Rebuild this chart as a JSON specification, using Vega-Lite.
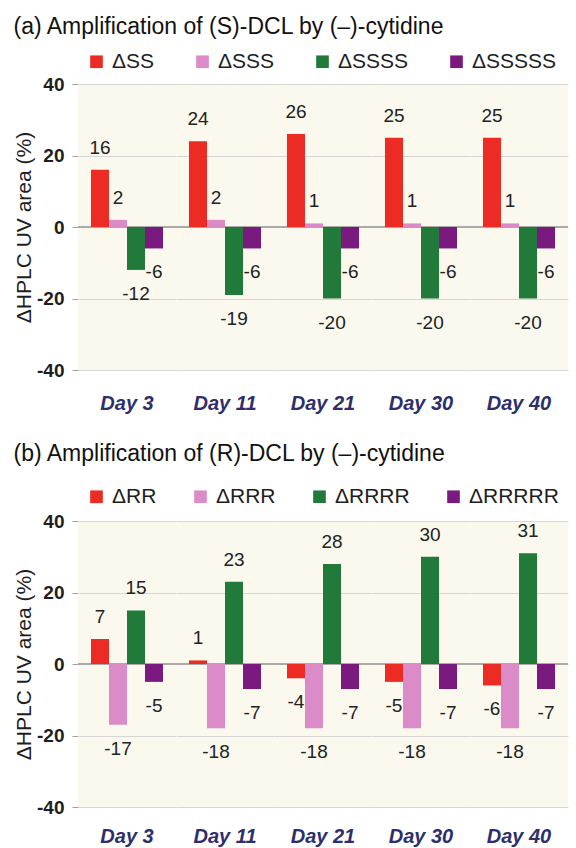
{
  "$schema": "https://vega.github.io/schema/vega-lite/v6.json",
  "background": "white",
  "padding": {"left": 13, "top": 16, "right": 4, "bottom": 0},
  "spacing": 29,
  "datasets": {
    "sdcl": [
      {"day": "Day 3", "series": "ΔSS", "value": 16},
      {"day": "Day 3", "series": "ΔSSS", "value": 2},
      {"day": "Day 3", "series": "ΔSSSS", "value": -12},
      {"day": "Day 3", "series": "ΔSSSSS", "value": -6},
      {"day": "Day 11", "series": "ΔSS", "value": 24},
      {"day": "Day 11", "series": "ΔSSS", "value": 2},
      {"day": "Day 11", "series": "ΔSSSS", "value": -19},
      {"day": "Day 11", "series": "ΔSSSSS", "value": -6},
      {"day": "Day 21", "series": "ΔSS", "value": 26},
      {"day": "Day 21", "series": "ΔSSS", "value": 1},
      {"day": "Day 21", "series": "ΔSSSS", "value": -20},
      {"day": "Day 21", "series": "ΔSSSSS", "value": -6},
      {"day": "Day 30", "series": "ΔSS", "value": 25},
      {"day": "Day 30", "series": "ΔSSS", "value": 1},
      {"day": "Day 30", "series": "ΔSSSS", "value": -20},
      {"day": "Day 30", "series": "ΔSSSSS", "value": -6},
      {"day": "Day 40", "series": "ΔSS", "value": 25},
      {"day": "Day 40", "series": "ΔSSS", "value": 1},
      {"day": "Day 40", "series": "ΔSSSS", "value": -20},
      {"day": "Day 40", "series": "ΔSSSSS", "value": -6}
    ],
    "rdcl": [
      {"day": "Day 3", "series": "ΔRR", "value": 7},
      {"day": "Day 3", "series": "ΔRRR", "value": -17},
      {"day": "Day 3", "series": "ΔRRRR", "value": 15},
      {"day": "Day 3", "series": "ΔRRRRR", "value": -5},
      {"day": "Day 11", "series": "ΔRR", "value": 1},
      {"day": "Day 11", "series": "ΔRRR", "value": -18},
      {"day": "Day 11", "series": "ΔRRRR", "value": 23},
      {"day": "Day 11", "series": "ΔRRRRR", "value": -7},
      {"day": "Day 21", "series": "ΔRR", "value": -4},
      {"day": "Day 21", "series": "ΔRRR", "value": -18},
      {"day": "Day 21", "series": "ΔRRRR", "value": 28},
      {"day": "Day 21", "series": "ΔRRRRR", "value": -7},
      {"day": "Day 30", "series": "ΔRR", "value": -5},
      {"day": "Day 30", "series": "ΔRRR", "value": -18},
      {"day": "Day 30", "series": "ΔRRRR", "value": 30},
      {"day": "Day 30", "series": "ΔRRRRR", "value": -7},
      {"day": "Day 40", "series": "ΔRR", "value": -6},
      {"day": "Day 40", "series": "ΔRRR", "value": -18},
      {"day": "Day 40", "series": "ΔRRRR", "value": 31},
      {"day": "Day 40", "series": "ΔRRRRR", "value": -7}
    ]
  },
  "vconcat": [
    {
      "title": {"text": "(a) Amplification of (S)-DCL by (–)-cytidine", "offset": 12},
      "data": {"name": "sdcl"},
      "facet": {
        "column": {"field": "day", "type": "nominal", "sort": ["Day 3", "Day 11", "Day 21", "Day 30", "Day 40"],
                   "title": null, "header": {"labelPadding": 24}}
      },
      "spacing": {"column": 0},
      "bounds": "flush",
      "spec": {
        "width": 98,
        "height": 286,
        "encoding": {
          "x": {"field": "series", "type": "nominal", "sort": ["ΔSS", "ΔSSS", "ΔSSSS", "ΔSSSSS"], "axis": null,
                "scale": {"paddingInner": 0, "paddingOuter": 0.72}},
          "y": {"field": "value", "type": "quantitative", "scale": {"domain": [-40, 40]},
                "title": "ΔHPLC UV area (%)", "axis": {"values": [-40, -20, 0, 20, 40]}}
        },
        "layer": [
          {
            "mark": {"type": "rule", "color": "#A6A6A6", "strokeWidth": 1.2},
            "encoding": {"x": null, "y": {"datum": 0, "type": "quantitative"}}
          },
          {
            "mark": {"type": "bar"},
            "encoding": {
              "color": {"field": "series", "type": "nominal",
                        "scale": {"domain": ["ΔSS", "ΔSSS", "ΔSSSS", "ΔSSSSS"],
                                  "range": ["#EC2B24", "#DA8BC8", "#21793A", "#7A1A7F"]},
                        "legend": {"legendY": -33, "columnPadding": 37}}
            }
          },
          {
            "transform": [{"filter": "datum.value >= 0"}],
            "mark": {"type": "text", "baseline": "alphabetic", "dy": -16, "fontSize": 19, "color": "#222222"},
            "encoding": {"text": {"field": "value", "type": "quantitative"}}
          },
          {
            "transform": [{"filter": "datum.value < 0"}],
            "mark": {"type": "text", "baseline": "alphabetic", "dy": 30, "fontSize": 19, "color": "#222222"},
            "encoding": {"text": {"field": "value", "type": "quantitative"}}
          }
        ]
      }
    },
    {
      "title": {"text": "(b) Amplification of (R)-DCL by (–)-cytidine", "offset": 20},
      "data": {"name": "rdcl"},
      "facet": {
        "column": {"field": "day", "type": "nominal", "sort": ["Day 3", "Day 11", "Day 21", "Day 30", "Day 40"],
                   "title": null, "header": {"labelPadding": 20}}
      },
      "spacing": {"column": 0},
      "bounds": "flush",
      "spec": {
        "width": 98,
        "height": 286,
        "encoding": {
          "x": {"field": "series", "type": "nominal", "sort": ["ΔRR", "ΔRRR", "ΔRRRR", "ΔRRRRR"], "axis": null,
                "scale": {"paddingInner": 0, "paddingOuter": 0.72}},
          "y": {"field": "value", "type": "quantitative", "scale": {"domain": [-40, 40]},
                "title": "ΔHPLC UV area (%)", "axis": {"values": [-40, -20, 0, 20, 40]}}
        },
        "layer": [
          {
            "mark": {"type": "rule", "color": "#A6A6A6", "strokeWidth": 1.2},
            "encoding": {"x": null, "y": {"datum": 0, "type": "quantitative"}}
          },
          {
            "mark": {"type": "bar"},
            "encoding": {
              "color": {"field": "series", "type": "nominal",
                        "scale": {"domain": ["ΔRR", "ΔRRR", "ΔRRRR", "ΔRRRRR"],
                                  "range": ["#EC2B24", "#DA8BC8", "#21793A", "#7A1A7F"]},
                        "legend": {"legendY": -35, "columnPadding": 33}}
            }
          },
          {
            "transform": [{"filter": "datum.value >= 0"}],
            "mark": {"type": "text", "baseline": "alphabetic", "dy": -16, "fontSize": 19, "color": "#222222"},
            "encoding": {"text": {"field": "value", "type": "quantitative"}}
          },
          {
            "transform": [{"filter": "datum.value < 0"}],
            "mark": {"type": "text", "baseline": "alphabetic", "dy": 30, "fontSize": 19, "color": "#222222"},
            "encoding": {"text": {"field": "value", "type": "quantitative"}}
          }
        ]
      }
    }
  ],
  "resolve": {"scale": {"color": "independent"}},
  "config": {
    "font": "Liberation Sans",
    "locale": {"number": {"decimal": ".", "thousands": ",", "grouping": [3], "currency": ["$", ""], "minus": "-"}},
    "view": {"fill": "#FBF8EE", "stroke": null},
    "title": {"anchor": "start", "frame": "bounds", "fontSize": 23, "fontWeight": "normal", "color": "#111111"},
    "header": {"labelOrient": "bottom", "labelFontSize": 20, "labelFontStyle": "italic", "labelFontWeight": "bold",
               "labelColor": "#2E2E6C", "labelBaseline": "top"},
    "axisY": {"labelFontSize": 19, "labelFontWeight": "bold", "labelColor": "#1E1E1E",
              "domainColor": "#A0A0A0", "tickColor": "#A0A0A0", "tickSize": 6, "labelPadding": 8,
              "gridColor": "#D6D6D6", "titleFontSize": 21, "titleFontWeight": "normal", "titleColor": "#1E1E1E", "titlePadding": 2},
    "legend": {"orient": "none", "direction": "horizontal", "columns": 4, "legendX": 8,
               "title": null, "symbolType": "square", "symbolSize": 160, "symbolStrokeWidth": 0, "symbolOpacity": 1,
               "labelFontSize": 21, "labelColor": "#1E1E1E", "labelOffset": 5}
  }
}
